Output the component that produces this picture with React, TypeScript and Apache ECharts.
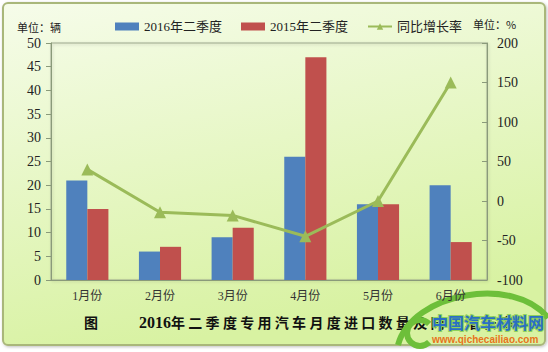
import React, { useEffect, useRef } from "react";
import * as echarts from "echarts";

const categories = ["1月份", "2月份", "3月份", "4月份", "5月份", "6月份"];
const q2016 = [21, 6, 9, 26, 16, 20];
const q2015 = [15, 7, 11, 47, 16, 8];
const growth = [40, -14.3, -18.2, -44.7, 0, 150];

const titleYear = "2016";
const titleText = "年二季度专用汽车月度进口数量及同比增长率";

const FONT = '"Liberation Serif", "Noto Sans CJK SC", serif';

export default function App() {
  const ref = useRef<HTMLDivElement>(null);
  useEffect(() => {
    if (!ref.current) return;
    const chart = echarts.init(ref.current, undefined, { renderer: "svg" });
    const titleChars = titleText.split("").map((ch, i) => ({
      type: "text",
      left: 171 + i * 17.3,
      top: 315,
      style: { text: ch, font: 'bold 14px "Noto Sans CJK SC"', fill: "#111" },
    }));
    chart.setOption({
      animation: false,
      textStyle: { fontFamily: FONT },
      graphic: [
        {
          type: "rect",
          z: -10,
          shape: { x: 3, y: 3, width: 542, height: 342, r: 5 },
          style: {
            fill: new echarts.graphic.LinearGradient(0, 0, 0.3, 1, [
              { offset: 0, color: "#f6fcea" },
              { offset: 1, color: "#d8f2a2" },
            ]),
            stroke: "#a9b77a",
            lineWidth: 2,
            shadowBlur: 3,
            shadowColor: "rgba(0,0,0,0.25)",
            shadowOffsetX: 1,
            shadowOffsetY: 1,
          },
        },
        {
          type: "text",
          left: 17,
          top: 21,
          style: { text: "单位：辆", font: '11px "Noto Sans CJK SC"', fill: "#222" },
        },
        {
          type: "text",
          left: 473,
          top: 18,
          style: { text: "单位：%", font: '11px "Noto Sans CJK SC"', fill: "#222" },
        },
        {
          type: "text",
          left: 84,
          top: 315,
          style: { text: "图", font: 'bold 14px "Noto Sans CJK SC"', fill: "#111" },
        },
        {
          type: "text",
          left: 139,
          top: 314,
          style: { text: titleYear, font: 'bold 16px "Liberation Serif"', fill: "#111" },
        },
        ...titleChars,
        {
          type: "bezierCurve",
          shape: { x1: 398, y1: 345, cpx1: 412, cpy1: 292, cpx2: 515, cpy2: 275, x2: 548, y2: 318 },
          style: { stroke: "#6dbf3a", lineWidth: 6, fill: null },
        },
        {
          type: "arc",
          shape: { cx: 420, cy: 333, r: 13, startAngle: Math.PI * 0.25, endAngle: Math.PI * 1.75, clockwise: true },
          style: { stroke: "#6dbf3a", lineWidth: 6, fill: null },
        },
        {
          type: "text",
          left: 431,
          top: 313,
          style: { text: "中国汽车材料网", font: 'bold 16px "Noto Sans CJK SC"', fill: "#2a6fc4", stroke: "#8fd15a", lineWidth: 2 },
        },
        {
          type: "text",
          left: 432,
          top: 334,
          style: { text: "www.qichecailiao.com", font: "bold 10px 'Liberation Sans'", fill: "#e8741c" },
        },
      ],
      legend: {
        top: 15,
        left: 110,
        itemWidth: 24,
        itemHeight: 8,
        itemGap: 19,
        textStyle: { fontSize: 13, color: "#222", fontFamily: FONT },
        data: [
          { name: "2016年二季度", icon: "rect" },
          { name: "2015年二季度", icon: "rect" },
          { name: "同比增长率" },
        ],
      },
      grid: {
        left: 51,
        right: 61,
        top: 43,
        bottom: 72,
        show: true,
        borderColor: "#9aa58a",
        borderWidth: 1,
        backgroundColor: "transparent",
        shadowColor: "rgba(0,0,0,0.2)",
        shadowBlur: 3,
        shadowOffsetX: 1,
        shadowOffsetY: 1,
      },
      xAxis: {
        type: "category",
        data: categories,
        axisLine: { lineStyle: { color: "#8a9a7a" } },
        axisTick: { inside: true, length: 5, lineStyle: { color: "#8a9a7a" } },
        axisLabel: { fontSize: 12, color: "#333", margin: 10, fontFamily: FONT },
      },
      yAxis: [
        {
          type: "value",
          min: 0,
          max: 50,
          interval: 5,
          splitLine: { show: false },
          axisLine: { show: true, lineStyle: { color: "#8a9a7a" } },
          axisTick: { show: true, length: 5, lineStyle: { color: "#8a9a7a" } },
          axisLabel: { fontSize: 14, color: "#222", margin: 10, fontFamily: FONT },
        },
        {
          type: "value",
          min: -100,
          max: 200,
          interval: 50,
          position: "right",
          splitLine: { show: false },
          axisLine: { show: true, lineStyle: { color: "#8a9a7a" } },
          axisTick: { show: true, inside: true, length: 5, lineStyle: { color: "#8a9a7a" } },
          axisLabel: { fontSize: 14, color: "#222", margin: 10, fontFamily: FONT },
        },
      ],
      series: [
        {
          name: "2016年二季度",
          type: "bar",
          data: q2016,
          itemStyle: { color: "#4f81bd" },
          barGap: "0%",
          barCategoryGap: "42%",
        },
        {
          name: "2015年二季度",
          type: "bar",
          data: q2015,
          itemStyle: { color: "#c0504d" },
        },
        {
          name: "同比增长率",
          type: "line",
          yAxisIndex: 1,
          data: growth,
          symbol: "triangle",
          symbolSize: 12,
          lineStyle: { color: "#9bbb59", width: 3 },
          itemStyle: { color: "#9bbb59" },
        },
      ],
    });
    return () => chart.dispose();
  }, []);
  return (
    <div
      ref={ref}
      style={{ position: "fixed", left: 0, top: 0, width: 548, height: 352, background: "#fff" }}
    />
  );
}
